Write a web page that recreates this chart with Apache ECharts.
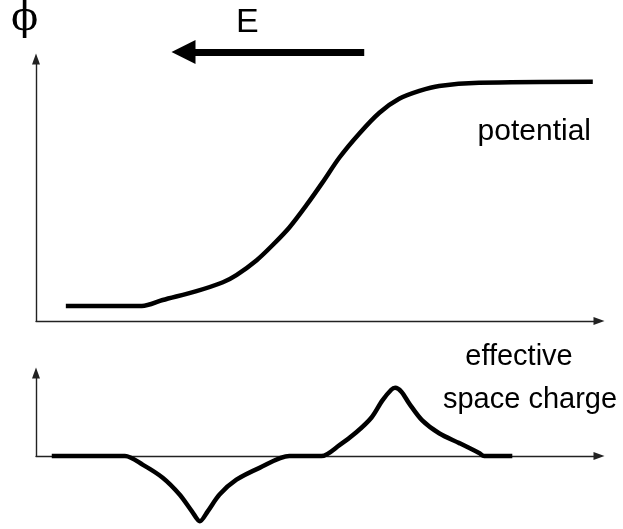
<!DOCTYPE html>
<html>
<head>
<meta charset="utf-8">
<script src="https://cdn.jsdelivr.net/npm/echarts@6/dist/echarts.min.js"></script>
<style>
  html, body { margin: 0; padding: 0; background: #fff; }
  #main { width: 623px; height: 529px; }
</style>
</head>
<body>
<div id="main"></div>
<script>
// 上图：电势曲线（横轴 0-100，纵轴 0-100）
const potentialX = [5.3, 18.8, 22.5, 28.5, 33.2, 35.6, 39.2, 42.0, 45.0, 48.0, 50.9, 53.9, 57.4, 61.0, 64.5, 68.1, 71.6, 78.7, 98.9];
const potentialY = [5.7, 5.7, 8.0, 11.4, 14.8, 17.5, 23.2, 28.9, 35.7, 44.1, 52.9, 62.4, 71.5, 79.5, 84.8, 87.8, 89.7, 90.9, 91.3];

// 下图：有效空间电荷
const chargeX = [2.8, 15.8, 19.0, 22.5, 25.5, 27.7, 29.1, 30.5, 32.6, 35.6, 39.7, 45.0,
  50.7, 53.9, 56.9, 59.6, 61.5, 63.1, 63.8, 64.9, 66.3, 68.6, 71.6, 75.2, 78.7, 79.6, 84.6];
const chargeY = [0, 0, -10.7, -26.2, -46.4, -66.7, -78.6, -66.7, -46.4, -28.6, -14.3, 0,
  0, 13.1, 28.6, 46.4, 66.7, 79.8, 82.1, 77.4, 63.1, 42.9, 27.4, 15.5, 3.6, 0, 0];

// 电场 E 箭头（上图坐标，从尾到头）
const fieldArrow = [[58.3, 102.7], [26.2, 102.7]];

function zip(xs, ys) {
  return xs.map((x, i) => [x, ys[i]]);
}

// 坐标轴公共样式
function axis(gridIndex) {
  return {
    type: 'value',
    gridIndex: gridIndex,
    min: 0,
    max: 100,
    axisLine: {
      show: true,
      symbol: ['none', 'triangle'],
      symbolSize: [8, 11],
      lineStyle: { color: '#222', width: 1.4 }
    },
    axisTick: { show: false },
    axisLabel: { show: false },
    splitLine: { show: false }
  };
}

const chart = echarts.init(document.getElementById('main'));

const curveStyle = { color: '#000', width: 4.5 };

const option = {
  animation: false,
  backgroundColor: '#fff',
  grid: [
    { left: 36, right: 24, top: 59, bottom: 208 },
    { left: 36, right: 24, top: 373, bottom: 73 }
  ],
  xAxis: [axis(0), axis(1)],
  yAxis: [axis(0), axis(1)],
  series: [
    {
      name: 'potential',
      type: 'line',
      xAxisIndex: 0,
      yAxisIndex: 0,
      data: zip(potentialX, potentialY),
      showSymbol: false,
      smooth: 0.3,
      lineStyle: curveStyle,
      clip: false
    },
    {
      name: 'effective space charge',
      type: 'line',
      xAxisIndex: 1,
      yAxisIndex: 1,
      data: zip(chargeX, chargeY),
      showSymbol: false,
      smooth: 0.3,
      lineStyle: curveStyle,
      clip: false
    },
    {
      name: 'E',
      type: 'lines',
      coordinateSystem: 'cartesian2d',
      xAxisIndex: 0,
      yAxisIndex: 0,
      symbol: ['none', 'triangle'],
      symbolSize: 24,
      lineStyle: { color: '#000', width: 7, opacity: 1 },
      clip: false,
      silent: true,
      data: [{ coords: fieldArrow }]
    }
  ],
  graphic: [
    {
      type: 'text', left: 11, top: 0,
      style: { text: 'ϕ', font: '40px "DejaVu Serif"', fill: '#000' }
    },
    {
      type: 'text', x: 236, y: 23,
      style: { text: 'E', font: '34px "Liberation Sans"', fill: '#000', verticalAlign: 'middle' }
    },
    {
      type: 'text', x: 591, y: 132,
      style: { text: 'potential', font: '30px "Liberation Sans"', fill: '#000', align: 'right', verticalAlign: 'middle' }
    },
    {
      type: 'text', x: 519, y: 357,
      style: { text: 'effective', font: '29px "Liberation Sans"', fill: '#000', align: 'center', verticalAlign: 'middle' }
    },
    {
      type: 'text', x: 530, y: 400,
      style: { text: 'space charge', font: '29px "Liberation Sans"', fill: '#000', align: 'center', verticalAlign: 'middle' }
    }
  ]
};

chart.setOption(option);
</script>
</body>
</html>
